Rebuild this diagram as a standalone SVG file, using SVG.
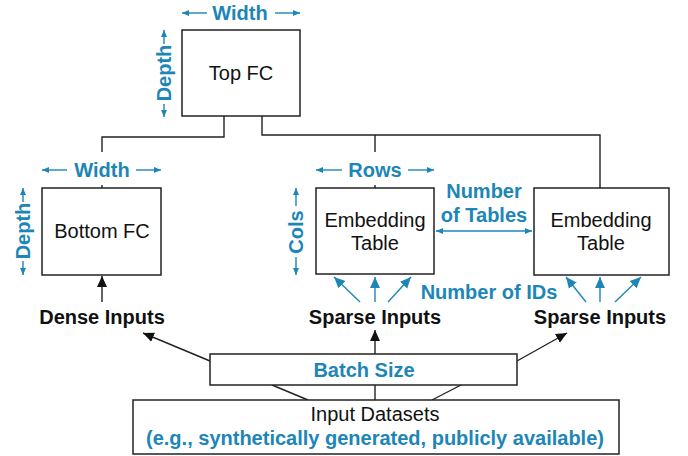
<svg xmlns="http://www.w3.org/2000/svg" width="688" height="456" viewBox="0 0 688 456">
<style>
.box{fill:#fff;stroke:#222;stroke-width:1.5}
.ln{fill:none;stroke:#222;stroke-width:1.4}
.bl{fill:none;stroke:#1c86b7;stroke-width:1.4}
.node{font-family:"Liberation Sans",Arial,sans-serif;font-size:20px;fill:#111;text-anchor:middle}
.lab{font-family:"Liberation Sans",Arial,sans-serif;font-size:20px;font-weight:bold;fill:#1c86b7;text-anchor:middle}
.blk{font-family:"Liberation Sans",Arial,sans-serif;font-size:20px;font-weight:bold;fill:#111;text-anchor:middle}
</style>
<defs>
<marker id="ab" markerUnits="userSpaceOnUse" markerWidth="12" markerHeight="12" refX="11" refY="6" orient="auto"><path d="M0,1 L11,6 L0,11 z" fill="#111"/></marker>
<marker id="au" markerUnits="userSpaceOnUse" markerWidth="12" markerHeight="12" refX="11" refY="6" orient="auto"><path d="M0,1 L11,6 L0,11 z" fill="#1c86b7"/></marker>
<marker id="as" markerUnits="userSpaceOnUse" markerWidth="8" markerHeight="8" refX="7" refY="4" orient="auto-start-reverse"><path d="M0,1 L7,4 L0,7 z" fill="#1c86b7"/></marker>
</defs>
<g id="connectors">
<path class="ln" d="M224,116 V137 H102 V152 M102,185 V188"/>
<path class="ln" d="M262,116 V135 H600 V188 M375,135 V152 M375,185 V188"/>
<line class="ln" x1="102" y1="302" x2="102" y2="276" marker-end="url(#ab)"/>
<line class="ln" x1="210" y1="361" x2="143" y2="333" marker-end="url(#ab)"/>
<line class="ln" x1="375" y1="354" x2="375" y2="330" marker-end="url(#ab)"/>
<line class="ln" x1="517" y1="361" x2="567" y2="333" marker-end="url(#ab)"/>
<line class="ln" x1="308" y1="400" x2="272" y2="385"/>
<line class="ln" x1="375" y1="385" x2="375" y2="400"/>
<line class="ln" x1="432" y1="400" x2="461" y2="385"/>
<line class="bl" x1="360" y1="302" x2="334" y2="277" marker-end="url(#au)"/>
<line class="bl" x1="375" y1="302" x2="375" y2="277" marker-end="url(#au)"/>
<line class="bl" x1="388" y1="302" x2="411" y2="277" marker-end="url(#au)"/>
<line class="bl" x1="586" y1="302" x2="566" y2="277" marker-end="url(#au)"/>
<line class="bl" x1="600" y1="302" x2="600" y2="277" marker-end="url(#au)"/>
<line class="bl" x1="615" y1="302" x2="641" y2="277" marker-end="url(#au)"/>
<line class="bl" x1="436" y1="231" x2="532" y2="231" marker-start="url(#as)" marker-end="url(#as)"/>
</g>
<g id="dims">
<line class="bl" x1="207" y1="13" x2="182" y2="13" marker-end="url(#as)"/>
<line class="bl" x1="275" y1="13" x2="300" y2="13" marker-end="url(#as)"/>
<text class="lab" x="240" y="20">Width</text>
<line class="bl" x1="164" y1="44" x2="164" y2="30" marker-end="url(#as)"/>
<line class="bl" x1="164" y1="104" x2="164" y2="117" marker-end="url(#as)"/>
<text class="lab" transform="translate(171,73) rotate(-90)">Depth</text>
<line class="bl" x1="67" y1="170" x2="42" y2="170" marker-end="url(#as)"/>
<line class="bl" x1="136" y1="170" x2="161" y2="170" marker-end="url(#as)"/>
<text class="lab" x="102" y="177">Width</text>
<line class="bl" x1="23" y1="202" x2="23" y2="188" marker-end="url(#as)"/>
<line class="bl" x1="23" y1="261" x2="23" y2="275" marker-end="url(#as)"/>
<text class="lab" transform="translate(30,231) rotate(-90)">Depth</text>
<line class="bl" x1="342" y1="170" x2="316" y2="170" marker-end="url(#as)"/>
<line class="bl" x1="408" y1="170" x2="434" y2="170" marker-end="url(#as)"/>
<text class="lab" x="375" y="177">Rows</text>
<line class="bl" x1="296" y1="206" x2="296" y2="188" marker-end="url(#as)"/>
<line class="bl" x1="296" y1="257" x2="296" y2="275" marker-end="url(#as)"/>
<text class="lab" transform="translate(303,232) rotate(-90)">Cols</text>
<text class="lab" x="484" y="198">Number</text>
<text class="lab" x="484" y="222">of Tables</text>
<text class="lab" x="489" y="299">Number of IDs</text>
</g>
<g id="top-fc"><rect class="box" x="182" y="30" width="118" height="86"/><text class="node" x="241" y="80">Top FC</text></g>
<g id="bottom-fc"><rect class="box" x="42" y="188" width="119" height="87"/><text class="node" x="102" y="238">Bottom FC</text></g>
<g id="emb1"><rect class="box" x="316" y="188" width="118" height="86"/><text class="node" x="375" y="227">Embedding</text><text class="node" x="375" y="250">Table</text></g>
<g id="emb2"><rect class="box" x="534" y="188" width="135" height="87"/><text class="node" x="601" y="227">Embedding</text><text class="node" x="601" y="250">Table</text></g>
<g id="dense"><text class="blk" x="102" y="324">Dense Inputs</text></g>
<g id="sparse1"><text class="blk" x="375" y="324">Sparse Inputs</text></g>
<g id="sparse2"><text class="blk" x="600" y="324">Sparse Inputs</text></g>
<g id="batch"><rect class="box" x="210" y="354" width="307" height="31"/><text class="lab" x="364" y="377">Batch Size</text></g>
<g id="datasets"><rect class="box" x="133" y="400" width="486" height="54"/><text class="node" x="375" y="421">Input Datasets</text><text class="lab" x="375" y="445">(e.g., synthetically generated, publicly available)</text></g>
</svg>
